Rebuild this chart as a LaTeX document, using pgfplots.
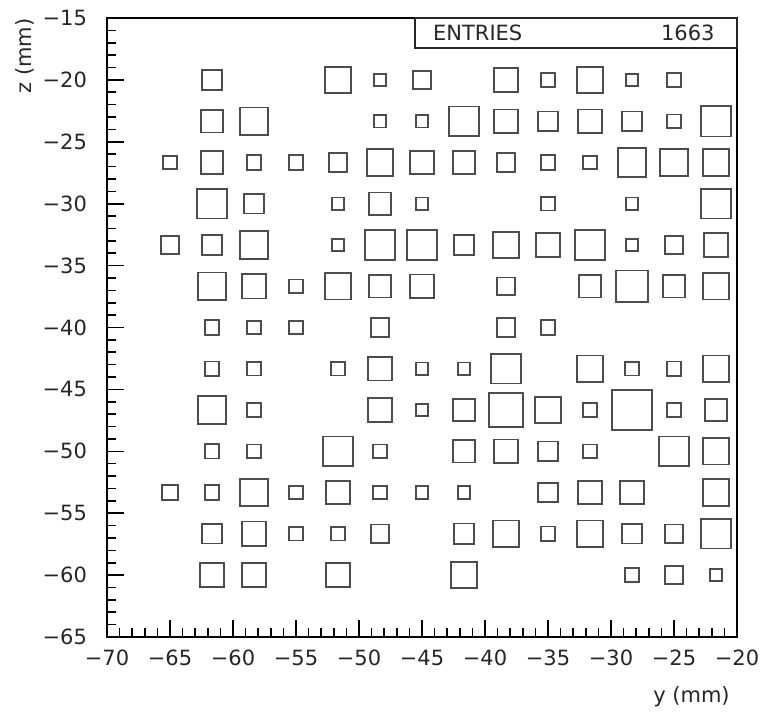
\documentclass[border=0pt]{standalone}
\usepackage{fontspec}
\setmainfont{DejaVu Sans}
\usepackage{pgfplots}
\pgfplotsset{compat=1.18}

% box histogram: y and z are bin centres (mm), s is the box side in px of the reference
\pgfplotstableread{
y z s
-61.667 -20 21
-51.667 -20 28
-48.333 -20 14
-45 -20 20
-38.333 -20 25
-35 -20 16
-31.667 -20 28
-28.333 -20 14
-25 -20 15
-61.667 -23.333 24
-58.333 -23.333 29
-48.333 -23.333 14
-45 -23.333 14
-41.667 -23.333 31
-38.333 -23.333 25
-35 -23.333 21
-31.667 -23.333 25
-28.333 -23.333 21
-25 -23.333 15
-21.667 -23.333 32
-65 -26.667 15
-61.667 -26.667 24
-58.333 -26.667 16
-55 -26.667 16
-51.667 -26.667 20
-48.333 -26.667 28
-45 -26.667 25
-41.667 -26.667 24
-38.333 -26.667 20
-35 -26.667 16
-31.667 -26.667 15
-28.333 -26.667 30
-25 -26.667 29
-21.667 -26.667 28
-61.667 -30 31
-58.333 -30 21
-51.667 -30 14
-48.333 -30 24
-45 -30 14
-35 -30 15
-28.333 -30 14
-21.667 -30 31
-65 -33.333 20
-61.667 -33.333 21
-58.333 -33.333 29
-51.667 -33.333 14
-48.333 -33.333 32
-45 -33.333 31
-41.667 -33.333 21
-38.333 -33.333 28
-35 -33.333 25
-31.667 -33.333 32
-28.333 -33.333 14
-25 -33.333 20
-21.667 -33.333 25
-61.667 -36.667 29
-58.333 -36.667 26
-55 -36.667 15
-51.667 -36.667 28
-48.333 -36.667 24
-45 -36.667 25
-38.333 -36.667 19
-31.667 -36.667 24
-28.333 -36.667 33
-25 -36.667 24
-21.667 -36.667 28
-61.667 -40 16
-58.333 -40 15
-55 -40 15
-48.333 -40 20
-38.333 -40 20
-35 -40 16
-61.667 -43.333 16
-58.333 -43.333 15
-51.667 -43.333 15
-48.333 -43.333 25
-45 -43.333 14
-41.667 -43.333 14
-38.333 -43.333 31
-31.667 -43.333 28
-28.333 -43.333 15
-25 -43.333 16
-21.667 -43.333 28
-61.667 -46.667 29
-58.333 -46.667 15
-48.333 -46.667 25
-45 -46.667 14
-41.667 -46.667 24
-38.333 -46.667 35
-35 -46.667 27
-31.667 -46.667 15
-28.333 -46.667 42
-25 -46.667 16
-21.667 -46.667 24
-61.667 -50 16
-58.333 -50 15
-51.667 -50 31
-48.333 -50 15
-41.667 -50 24
-38.333 -50 25
-35 -50 21
-31.667 -50 15
-25 -50 31
-21.667 -50 28
-65 -53.333 17
-61.667 -53.333 16
-58.333 -53.333 29
-55 -53.333 15
-51.667 -53.333 25
-48.333 -53.333 15
-45 -53.333 14
-41.667 -53.333 14
-35 -53.333 21
-31.667 -53.333 25
-28.333 -53.333 25
-21.667 -53.333 28
-61.667 -56.667 21
-58.333 -56.667 26
-55 -56.667 15
-51.667 -56.667 15
-48.333 -56.667 20
-41.667 -56.667 22
-38.333 -56.667 28
-35 -56.667 16
-31.667 -56.667 28
-28.333 -56.667 21
-25 -56.667 20
-21.667 -56.667 31
-61.667 -60 25
-58.333 -60 26
-51.667 -60 25
-41.667 -60 27
-28.333 -60 15
-25 -60 20
-21.667 -60 14
}\cells

\begin{document}
\begin{tikzpicture}
\useasboundingbox (0,0) rectangle (381.5pt,356.5pt);
\begin{axis}[
    at={(53.5pt,38pt)}, anchor=south west,
    scale only axis,
    width=315pt, height=309.5pt,
    xmin=-70, xmax=-20, ymin=-65, ymax=-15,
    clip=false,
    axis line style={line width=1pt},
    tick pos=left,
    tick align=inside,
    major tick length=8.5pt,
    minor tick length=4.5pt,
    every tick/.style={black, line width=0.8pt},
    minor tick num=4,
    xtick={-70,-65,...,-20},
    xticklabels={−70,−65,−60,−55,−50,−45,−40,−35,−30,−25,−20},
    ytick={-65,-60,...,-15},
    yticklabels={−65,−60,−55,−50,−45,−40,−35,−30,−25,−20,−15},
    tick label style={font=\fontsize{10.5}{12}\selectfont, text=black!85},
    xticklabel style={yshift=-3pt},
    yticklabel style={xshift=-6.5pt},
    xlabel={y (mm)},
    ylabel={z (mm)},
    label style={font=\fontsize{10.5}{12}\selectfont, text=black!85, inner sep=0pt},
    xlabel style={at={(axis description cs:0.989,-0.097)}, anchor=east},
    ylabel style={at={(axis description cs:-0.130,1.0)}, anchor=east},
]
\addplot[scatter, only marks, mark=square,
    scatter/use mapped color={draw=black!70, fill=none},
    every mark/.append style={line width=0.9pt, solid},
    visualization depends on={(\thisrow{s}-1.5)/4 \as \msize},
    scatter/@pre marker code/.append style={/tikz/mark size=\msize pt}]
    table[x=y, y=z] {\cells};

\draw[line width=0.8pt, black!85] (axis description cs:0.489,1) rectangle (axis description cs:1,0.9515);
\node[anchor=west, inner sep=0pt, font=\fontsize{10.5}{12}\selectfont, text=black!85]
    at (axis description cs:0.517,0.976) {ENTRIES};
\node[anchor=east, inner sep=0pt, font=\fontsize{10.5}{12}\selectfont, text=black!85]
    at (axis description cs:0.965,0.976) {1663};
\end{axis}
\end{tikzpicture}
\end{document}
